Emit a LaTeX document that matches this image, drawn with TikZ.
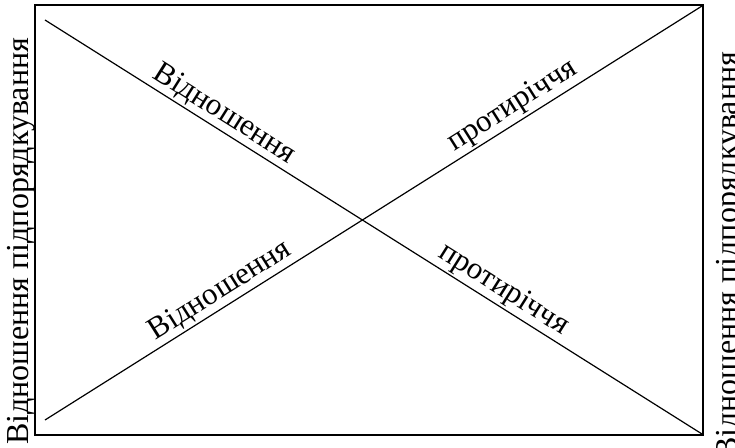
\documentclass[tikz,border=0pt]{standalone}
\usepackage{fontspec}
\setmainfont{Liberation Serif}
\usetikzlibrary{positioning,calc}
\tikzset{
  frame/.style={line width=1.6pt},
  diag/.style={line width=1.2pt},
  lbl/.style={font=\fontsize{31}{36}\selectfont, inner sep=2pt},
  side/.style={font=\fontsize{32}{38}\selectfont, rotate=90, anchor=base west, inner sep=0pt}
}

\begin{document}
\begin{tikzpicture}[x=1pt,y=1pt]
        \useasboundingbox (0,0) rectangle (735,447);
        % frame
        \coordinate (tl) at (35,442);
        \coordinate (br) at (703,12);
        \draw[frame] (tl) rectangle (br);
        % diagonals
        \coordinate (a) at (45,427);
        \coordinate (b) at (702,13);
        \coordinate (c) at (45,27);
        \coordinate (d) at (702,441);
        \draw[diag] (a) -- (b)
            node[lbl, sloped, above, pos=0.26] (rel1) {Відношення}
            node[lbl, sloped, above, pos=0.685] (con1) {протиріччя};
        \draw[diag] (c) -- (d)
            node[lbl, sloped, above, pos=0.28] (rel2) {Відношення}
            node[lbl, sloped, above, pos=0.725] (con2) {протиріччя};
        % side labels
        \node[side] (left) at (28,2) {Відношення підпорядкування};
        \node[side] (right) at (737,-12) {Відношення підпорядкування};
    \end{tikzpicture}
\end{document}
